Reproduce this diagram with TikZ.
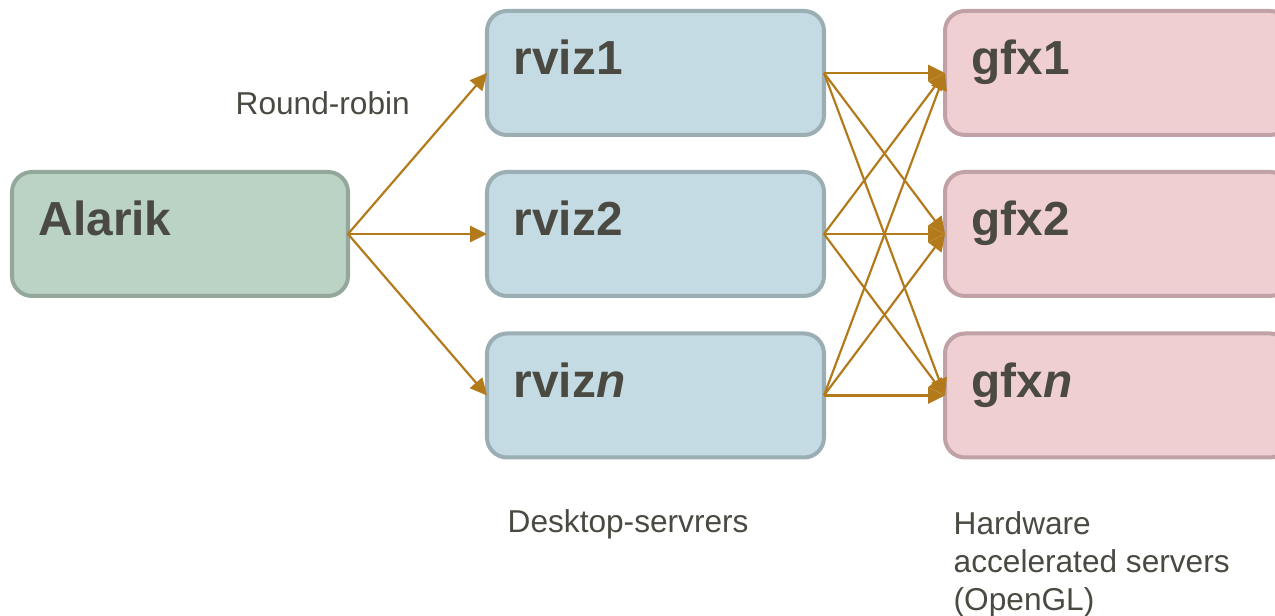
\documentclass[tikz,border=0pt]{standalone}
\usepackage{fontspec}
\setmainfont{Liberation Sans}
\usetikzlibrary{arrows.meta}
\usepackage{xcolor}
\definecolor{inkgray}{HTML}{4B4A42}
\definecolor{arrowbrown}{HTML}{B27A1A}
\definecolor{alarikfill}{HTML}{BAD3C5}
\definecolor{alarikline}{HTML}{93A89A}
\definecolor{rvizfill}{HTML}{C5DBE3}
\definecolor{rvizline}{HTML}{9AAEB4}
\definecolor{gfxfill}{HTML}{EFCFD2}
\definecolor{gfxline}{HTML}{C0A2A6}

\begin{document}
\begin{tikzpicture}[
      srvbox/.style={rounded corners=0.2cm, line width=1.14pt, outer sep=0pt,
                     minimum height=1.24cm, inner sep=0pt},
      alarikbox/.style={srvbox, draw=alarikline, fill=alarikfill, minimum width=3.36cm},
      rvizbox/.style={srvbox, draw=rvizline, fill=rvizfill, minimum width=3.37cm},
      gfxbox/.style={srvbox, draw=gfxline, fill=gfxfill, minimum width=3.45cm},
      title/.style={anchor=base west, inner sep=0pt, text=inkgray,
                    font=\fontsize{13.6}{16}\selectfont\bfseries},
      note/.style={inner sep=0pt, text=inkgray, align=left,
                   font=\fontsize{9}{10.8}\selectfont},
      arr/.style={-{Triangle[length=4.8pt,width=4.6pt]}, line width=0.62pt, color=arrowbrown}
    ]
    \path[use as bounding box, clip] (0,0) rectangle (12.75,-6.16);

    % Boxes
    \node[alarikbox] (alarik) at (1.80,-2.34)   {};
    \node[rvizbox]   (rviz1)  at (6.555,-0.73)  {};
    \node[rvizbox]   (rviz2)  at (6.555,-2.34)  {};
    \node[rvizbox]   (rvizn)  at (6.555,-3.955) {};
    \node[gfxbox]    (gfx1)   at (11.175,-0.73)  {};
    \node[gfxbox]    (gfx2)   at (11.175,-2.34)  {};
    \node[gfxbox]    (gfxn)   at (11.175,-3.955) {};

    % Box titles
    \node[title] (alarik-t) at ([shift={(0.26,-0.64)}]alarik.north west) {Alarik};
    \node[title] (rviz1-t)  at ([shift={(0.26,-0.64)}]rviz1.north west)  {rviz1};
    \node[title] (rviz2-t)  at ([shift={(0.26,-0.64)}]rviz2.north west)  {rviz2};
    \node[title] (rvizn-t)  at ([shift={(0.26,-0.64)}]rvizn.north west)  {rviz\textit{n}};
    \node[title] (gfx1-t)   at ([shift={(0.26,-0.64)}]gfx1.north west)   {gfx1};
    \node[title] (gfx2-t)   at ([shift={(0.26,-0.64)}]gfx2.north west)   {gfx2};
    \node[title] (gfxn-t)   at ([shift={(0.26,-0.64)}]gfxn.north west)   {gfx\textit{n}};

    % Round-robin from Alarik
    \draw[arr] (alarik.east) -- (rviz1.west);
    \draw[arr] (alarik.east) -- (rviz2.west);
    \draw[arr] (alarik.east) -- (rvizn.west);

    % Desktop servers to graphics servers
    \draw[arr] (rviz1.east) -- (gfx1.west);
    \draw[arr] (rviz1.east) -- (gfx2.west);
    \draw[arr] (rviz1.east) -- (gfxn.west);
    \draw[arr] (rviz2.east) -- (gfx1.west);
    \draw[arr] (rviz2.east) -- (gfx2.west);
    \draw[arr] (rviz2.east) -- (gfxn.west);
    \draw[arr] (rvizn.east) -- (gfx1.west);
    \draw[arr] (rvizn.east) -- (gfx2.west);
    \draw[arr] (rvizn.east) -- (gfxn.west);

    % Notes
    \node[note, anchor=base west] (rr)      at (2.35,-1.15) {Round-robin};
    \node[note, anchor=base west] (desktop) at (5.07,-5.33) {Desktop-servrers};
    \node[note, anchor=north west] (hwacc)  at (9.53,-5.11)
      {Hardware\\accelerated servers\\(OpenGL)};

  \end{tikzpicture}
\end{document}
